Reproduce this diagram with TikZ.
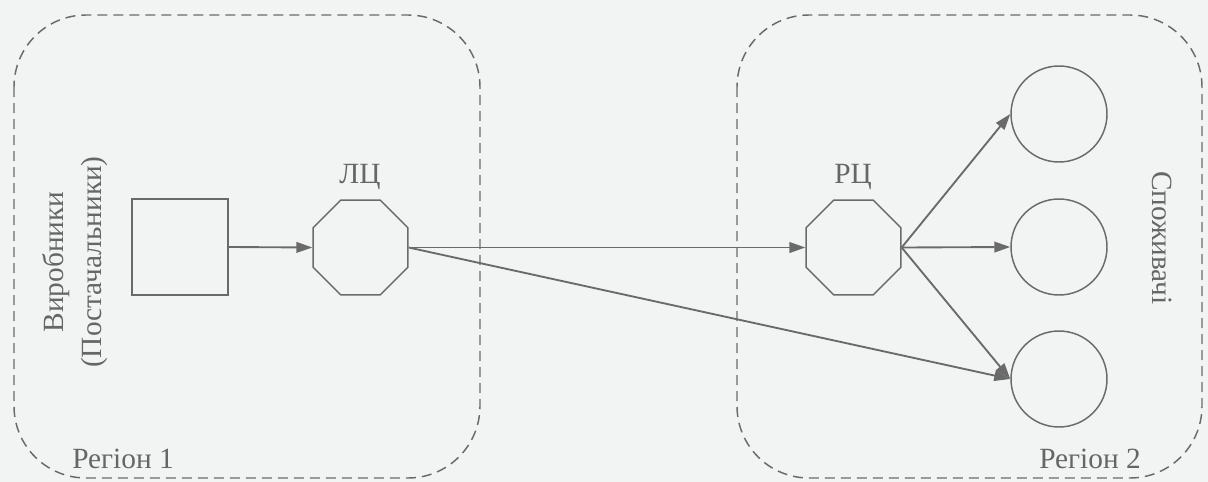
\documentclass[tikz,border=0pt]{standalone}
\usepackage{fontspec}
\setmainfont{Liberation Serif}
\usetikzlibrary{shapes.geometric,arrows.meta}
\definecolor{bgc}{HTML}{F2F4F4}
\definecolor{linec}{HTML}{6A6A6A}
\definecolor{textc}{HTML}{666666}
\tikzset{
  region/.style={draw=linec, line width=1.1pt, dash pattern=on 7.5pt off 4.5pt, rounded corners=54pt},
  sq/.style={draw=linec, line width=1.2pt, minimum size=72pt, inner sep=0pt},
  oct/.style={draw=linec, line width=1.1pt, regular polygon, regular polygon sides=8, minimum size=77pt, inner sep=0pt},
  cons/.style={draw=linec, line width=1.1pt, circle, minimum size=72pt, inner sep=0pt},
  lbl/.style={text=textc, font=\fontsize{22}{28.5}\selectfont, inner sep=0pt},
  arr/.style={draw=linec, line width=1.4pt, -{Triangle[length=12pt,width=8pt]}},
}
\begin{document}
\begin{tikzpicture}[x=0.75pt,y=-0.75pt]
\fill[bgc] (0,0) rectangle (1208,482);
\useasboundingbox (0,0) rectangle (1208,482);
\draw[region] (14,15) rectangle (480,478);
\draw[region] (737,15) rectangle (1202,478);
\node[sq] (prod) at (180,247) {};
\node[oct] (lc) at (360.5,247.5) {};
\node[oct] (rc) at (853.5,247.5) {};
\node[cons] (c1) at (1059,114) {};
\node[cons] (c2) at (1059,247) {};
\node[cons] (c3) at (1059,379) {};
\node[lbl, anchor=base] (lcl) at (360,183) {ЛЦ};
\node[lbl, anchor=base] (rcl) at (853,183) {РЦ};
\node[lbl, rotate=90, align=center] (prodl) at (75,262) {Виробники\\(Постачальники)};
\node[lbl, rotate=-90] (consl) at (1162,238) {Споживачі};
\node[lbl] (r1) at (123,459) {Регіон 1};
\node[lbl] (r2) at (1090,459) {Регіон 2};
\draw[arr] (prod.east) -- (lc.west);
\draw[arr] (lc.east) -- (rc.west);
\draw[arr] (lc.east) -- (c3.west);
\draw[arr] (rc.east) -- (c1.west);
\draw[arr] (rc.east) -- (c2.west);
\draw[arr] (rc.east) -- (c3.west);
\end{tikzpicture}
\end{document}
